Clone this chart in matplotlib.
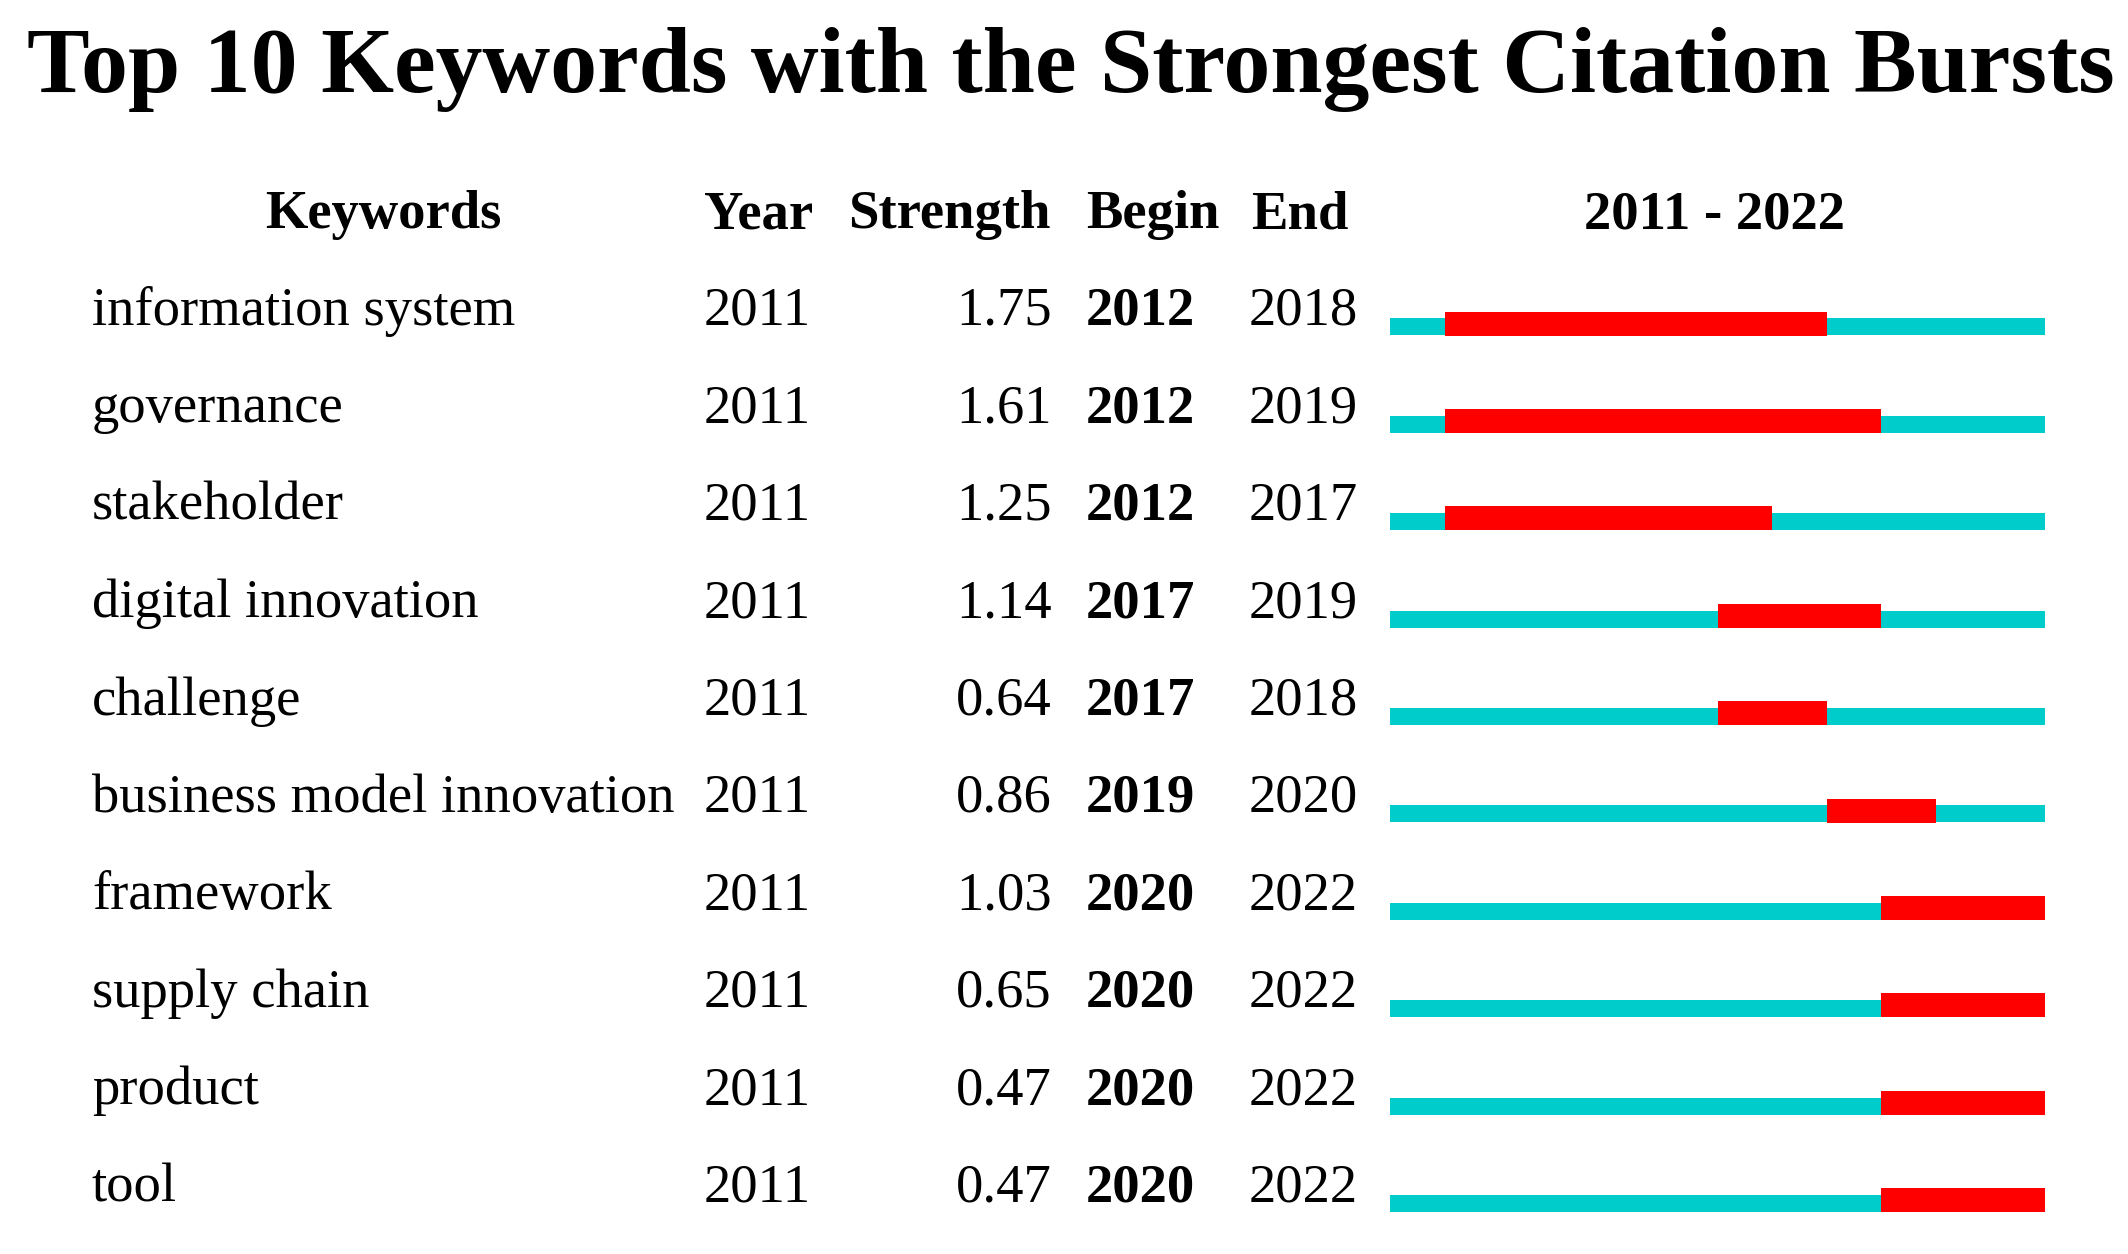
"""Top 10 keywords with the strongest citation bursts (CiteSpace-style burst table)."""
import matplotlib
matplotlib.use("Agg")
import matplotlib.pyplot as plt

KEYWORDS = ["information system", "governance", "stakeholder", "digital innovation", "challenge",
            "business model innovation", "framework", "supply chain", "product", "tool"]
YEAR = [2011, 2011, 2011, 2011, 2011, 2011, 2011, 2011, 2011, 2011]
STRENGTH = [1.75, 1.61, 1.25, 1.14, 0.64, 0.86, 1.03, 0.65, 0.47, 0.47]
BEGIN = [2012, 2012, 2012, 2017, 2017, 2019, 2020, 2020, 2020, 2020]
END = [2018, 2019, 2017, 2019, 2018, 2020, 2022, 2022, 2022, 2022]
Y0, Y1 = 2011, 2022
HEADERS = ["Keywords", "Year", "Strength", "Begin", "End", f"{Y0} - {Y1}"]

plt.rcParams["font.family"] = ["Liberation Serif", "DejaVu Serif"]
W, H = 2128, 1254
ROW0, PITCH = 306, 97.4          # pixel centre of first row, row pitch
FS = 39.3
CYAN, RED = "#00CCCC", "#FF0000"

fig = plt.figure(figsize=(W / 100, H / 100), dpi=100)
ylim = ((H - ROW0) / PITCH, -ROW0 / PITCH)
ax = fig.add_axes([0, 0, 1, 1])
ax.set_xlim(0, W); ax.set_ylim(*ylim); ax.axis("off")

fig.text(0.503, 1 - 92 / H, "Top 10 Keywords with the Strongest Citation Bursts",
         ha="center", va="baseline", fontsize=67.5, fontweight="bold")

# header row
hy = -0.80
ax.text(383, hy, HEADERS[0], ha="center", va="baseline", fontsize=FS, fontweight="bold")
ax.text(704, hy, HEADERS[1], ha="left", va="baseline", fontsize=FS, fontweight="bold")
ax.text(848, hy, HEADERS[2], ha="left", va="baseline", fontsize=FS, fontweight="bold")
ax.text(1086, hy, HEADERS[3], ha="left", va="baseline", fontsize=FS, fontweight="bold")
ax.text(1251, hy, HEADERS[4], ha="left", va="baseline", fontsize=FS, fontweight="bold")
ax.text(1715, hy, HEADERS[5], ha="center", va="baseline", fontsize=FS, fontweight="bold")

bl = 0.195
for i, kw in enumerate(KEYWORDS):
    ax.text(92, i + bl, kw, ha="left", va="baseline", fontsize=FS)
    ax.text(704, i + bl, str(YEAR[i]), ha="left", va="baseline", fontsize=FS)
    ax.text(1052, i + bl, f"{STRENGTH[i]:.2f}", ha="right", va="baseline", fontsize=FS)
    ax.text(1086, i + bl, str(BEGIN[i]), ha="left", va="baseline", fontsize=FS, fontweight="bold")
    ax.text(1249, i + bl, str(END[i]), ha="left", va="baseline", fontsize=FS)

# burst timeline
bx = fig.add_axes([1390 / W, 0, 655 / W, 1])
bx.set_xlim(Y0, Y1 + 1); bx.set_ylim(*ylim); bx.axis("off")
rows = list(range(len(KEYWORDS)))
bx.barh([r + 0.215 for r in rows], [Y1 + 1 - Y0] * len(rows), left=Y0, height=0.175,
        color=CYAN, linewidth=0)
bx.barh([r + 0.18 for r in rows], [e + 1 - b for b, e in zip(BEGIN, END)], left=BEGIN,
        height=0.246, color=RED, linewidth=0)

fig.savefig("out.png", dpi=100)
